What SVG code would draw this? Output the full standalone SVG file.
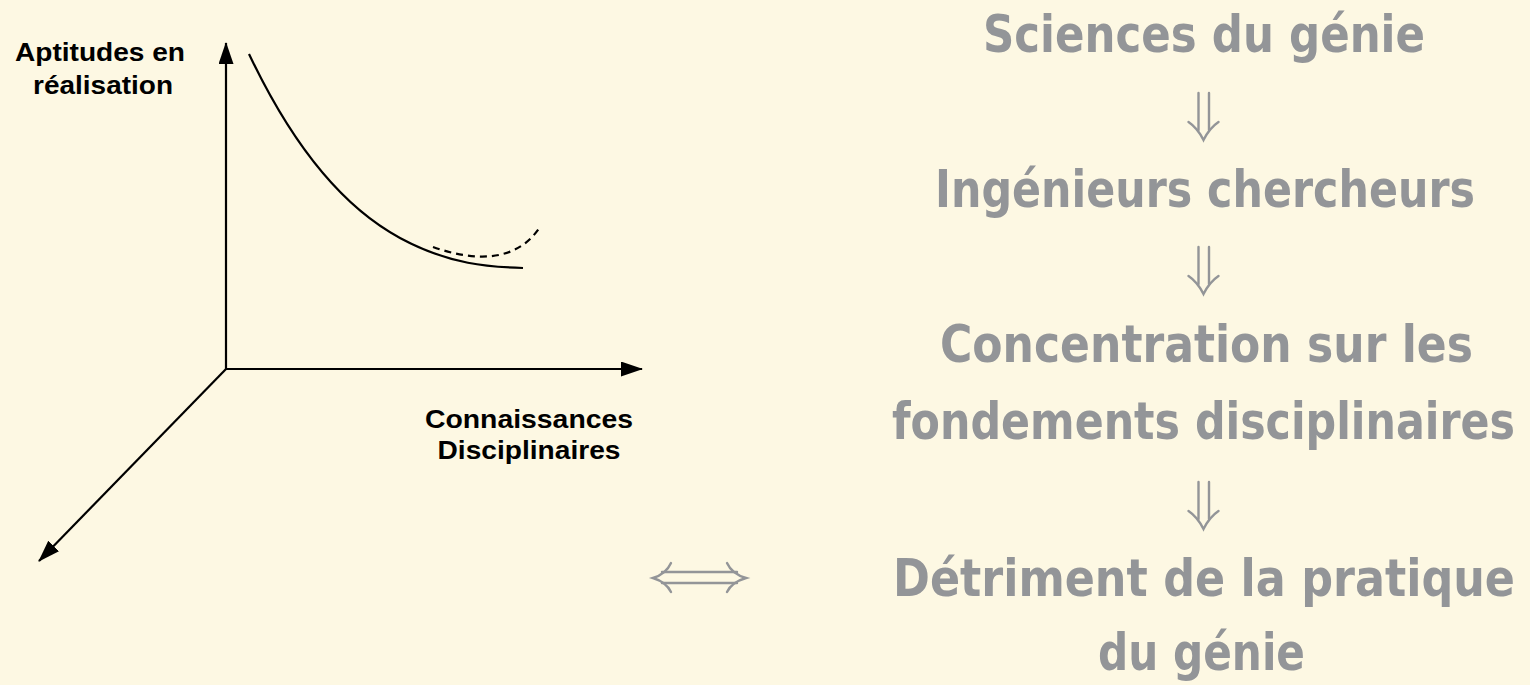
<svg xmlns="http://www.w3.org/2000/svg" width="1530" height="685" viewBox="0 0 1530 685">
<style>
.lbl{font-family:"Liberation Sans",Arial,sans-serif;font-weight:bold;font-size:26px;fill:#000;text-anchor:middle}
.big{font-family:"DejaVu Sans Condensed","DejaVu Sans","Liberation Sans",sans-serif;font-stretch:condensed;font-weight:bold;font-size:46px;fill:#939598;text-anchor:middle}
.ax{stroke:#000;stroke-width:2.2;fill:none}
.curve{stroke:#000;stroke-width:2.2;fill:none}
.dash{stroke:#000;stroke-width:2.2;fill:none;stroke-dasharray:7 5}
.garr{stroke:#939598;stroke-width:2.4;fill:none;stroke-linecap:round}
</style>
<defs>
<marker id="ah" markerUnits="userSpaceOnUse" markerWidth="24" markerHeight="18" refX="21" refY="7.5" orient="auto">
<path d="M0,0 L22,7.5 L0,15 z" fill="#000"/>
</marker>
<g id="dn">
<path class="garr" d="M-5,0 V37 M5.5,0 V37"/>
<path class="garr" d="M-15,29 Q-6,35 0,47 Q6,35 15,29"/>
</g>
</defs>
<rect width="1530" height="685" fill="#FDF8E3"/>
<g id="connectors">
<line class="ax" x1="226" y1="370" x2="226" y2="43" marker-end="url(#ah)"/>
<line class="ax" x1="225" y1="369" x2="642" y2="369" marker-end="url(#ah)"/>
<line class="ax" x1="226" y1="369" x2="39" y2="561" marker-end="url(#ah)"/>
<path class="curve" d="M249,54 C285,130 335,203 400,238 C450,265 490,267 523,268"/>
<path class="dash" d="M433,247 C470,260 515,265 540,227"/>
</g>
<g id="label-aptitudes">
<text class="lbl" x="100" y="61" textLength="170" lengthAdjust="spacingAndGlyphs">Aptitudes en</text>
<text class="lbl" x="103" y="94" textLength="140" lengthAdjust="spacingAndGlyphs">réalisation</text>
</g>
<g id="label-connaissances">
<text class="lbl" x="529" y="428" textLength="208" lengthAdjust="spacingAndGlyphs">Connaissances</text>
<text class="lbl" x="529" y="459" textLength="183" lengthAdjust="spacingAndGlyphs">Disciplinaires</text>
</g>
<g id="equiv">
<path class="garr" d="M662,572 H737 M662,583 H737"/>
<path class="garr" d="M671,563 Q666,574 653,578 Q666,582 671,592"/>
<path class="garr" d="M727,563 Q732,574 746,578 Q732,582 727,592"/>
</g>
<g id="n1"><text class="big" x="0" y="0" transform="translate(1204 52) scale(1 1.12)" textLength="442" lengthAdjust="spacingAndGlyphs">Sciences du génie</text></g>
<g id="a1"><use href="#dn" x="1203.5" y="93"/></g>
<g id="n2"><text class="big" x="0" y="0" transform="translate(1205 207) scale(1 1.12)" textLength="540" lengthAdjust="spacingAndGlyphs">Ingénieurs chercheurs</text></g>
<g id="a2"><use href="#dn" x="1203.5" y="247"/></g>
<g id="n3">
<text class="big" x="0" y="0" transform="translate(1206.5 362) scale(1 1.12)" textLength="533" lengthAdjust="spacingAndGlyphs">Concentration sur les</text>
<text class="big" x="0" y="0" transform="translate(1203.5 439) scale(1 1.12)" textLength="623" lengthAdjust="spacingAndGlyphs">fondements disciplinaires</text>
</g>
<g id="a3"><use href="#dn" x="1203.5" y="482"/></g>
<g id="n4">
<text class="big" x="0" y="0" transform="translate(1204 596) scale(1 1.12)" textLength="622" lengthAdjust="spacingAndGlyphs">Détriment de la pratique</text>
<text class="big" x="0" y="0" transform="translate(1201.5 670) scale(1 1.12)" textLength="207" lengthAdjust="spacingAndGlyphs">du génie</text>
</g>
</svg>
